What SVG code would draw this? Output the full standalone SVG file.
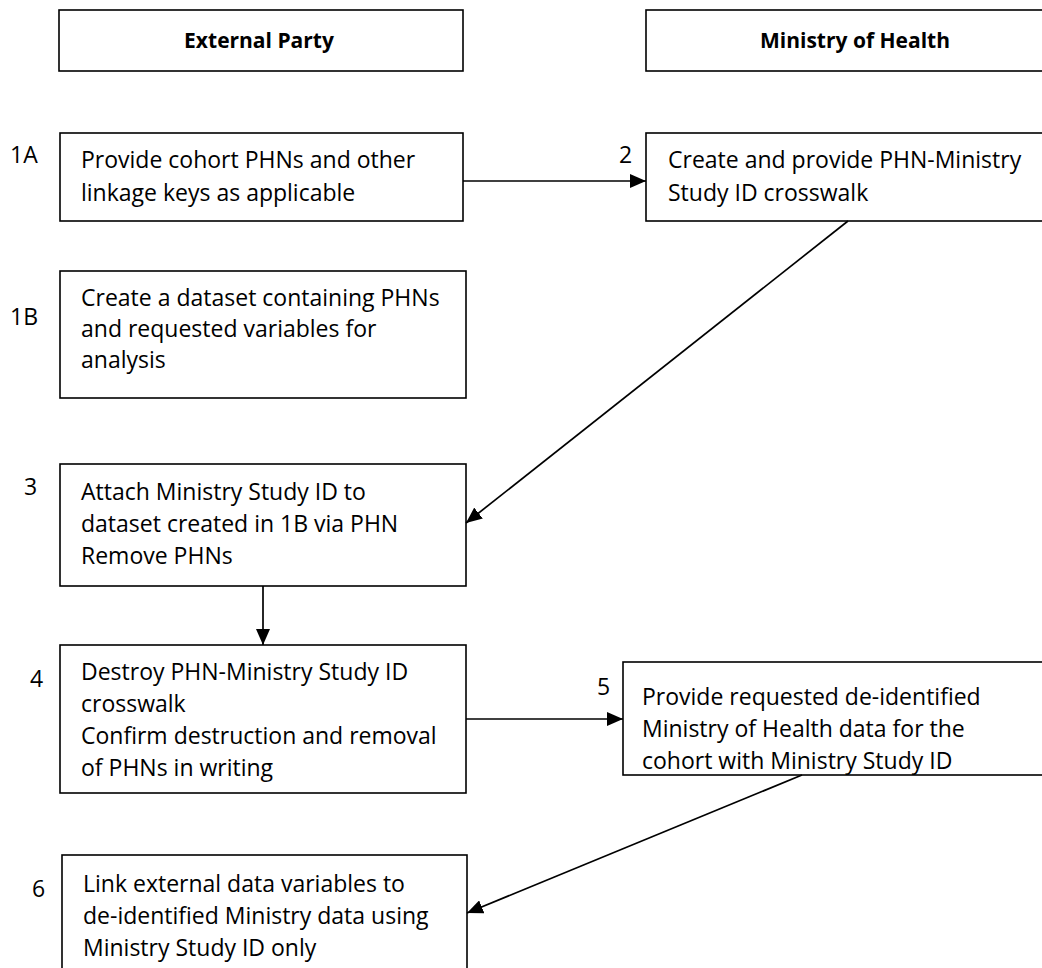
<svg xmlns="http://www.w3.org/2000/svg" width="1042" height="968" viewBox="0 0 1042 968">
<style>
.box{fill:#fff;stroke:#000;stroke-width:1.6}
.t{font-family:"Open Sans","Noto Sans",sans-serif;font-size:23px;fill:#000}
.h{font-family:"Open Sans","Noto Sans",sans-serif;font-size:21px;font-weight:bold;fill:#000;text-anchor:middle}
.c{stroke:#000;stroke-width:1.7;fill:none;marker-end:url(#ah)}
</style>
<defs>
<marker id="ah" viewBox="0 0 16 14" refX="16" refY="7" markerWidth="16" markerHeight="14" markerUnits="userSpaceOnUse" orient="auto">
<path d="M0,0 L16,7 L0,14 Z" fill="#000"/>
</marker>
</defs>
<rect width="1042" height="968" fill="#fff"/>
<g id="header-external">
<rect class="box" x="59" y="10" width="404" height="61"/>
<text class="h" x="259" y="48">External Party</text>
</g>
<g id="header-ministry">
<rect class="box" x="646" y="10" width="410" height="61"/>
<text class="h" x="855" y="48">Ministry of Health</text>
</g>
<g id="step-1A">
<rect class="box" x="60" y="133" width="403" height="88"/>
<text class="t" x="10" y="163">1A</text>
<text class="t" x="81" y="168">Provide cohort PHNs and other</text>
<text class="t" x="81" y="201">linkage keys as applicable</text>
</g>
<g id="step-2">
<rect class="box" x="646" y="133" width="410" height="88"/>
<text class="t" x="619" y="163">2</text>
<text class="t" x="668" y="168">Create and provide PHN-Ministry</text>
<text class="t" x="668" y="201">Study ID crosswalk</text>
</g>
<g id="step-1B">
<rect class="box" x="60" y="271" width="406" height="127"/>
<text class="t" x="10" y="325">1B</text>
<text class="t" x="81" y="306">Create a dataset containing PHNs</text>
<text class="t" x="81" y="337">and requested variables for</text>
<text class="t" x="81" y="368">analysis</text>
</g>
<g id="step-3">
<rect class="box" x="60" y="464" width="406" height="122"/>
<text class="t" x="24" y="495">3</text>
<text class="t" x="81" y="500">Attach Ministry Study ID to</text>
<text class="t" x="81" y="532">dataset created in 1B via PHN</text>
<text class="t" x="81" y="564">Remove PHNs</text>
</g>
<g id="step-4">
<rect class="box" x="60" y="645" width="406" height="148"/>
<text class="t" x="30" y="687">4</text>
<text class="t" x="81" y="680">Destroy PHN-Ministry Study ID</text>
<text class="t" x="81" y="712">crosswalk</text>
<text class="t" x="81" y="744">Confirm destruction and removal</text>
<text class="t" x="81" y="776">of PHNs in writing</text>
</g>
<g id="step-5">
<rect class="box" x="623" y="662" width="430" height="113"/>
<text class="t" x="597" y="695">5</text>
<text class="t" x="642" y="705">Provide requested de-identified</text>
<text class="t" x="642" y="737">Ministry of Health data for the</text>
<text class="t" x="642" y="769">cohort with Ministry Study ID</text>
</g>
<g id="step-6">
<rect class="box" x="62" y="855" width="405" height="130"/>
<text class="t" x="32" y="897">6</text>
<text class="t" x="83" y="892">Link external data variables to</text>
<text class="t" x="83" y="924">de-identified Ministry data using</text>
<text class="t" x="83" y="956">Ministry Study ID only</text>
</g>
<g id="connectors">
<line class="c" x1="463" y1="181" x2="646" y2="181"/>
<line class="c" x1="848" y1="221" x2="466" y2="523"/>
<line class="c" x1="263" y1="586" x2="263" y2="645"/>
<line class="c" x1="466" y1="719" x2="623" y2="719"/>
<line class="c" x1="802" y1="775" x2="467" y2="913"/>
</g>
</svg>
